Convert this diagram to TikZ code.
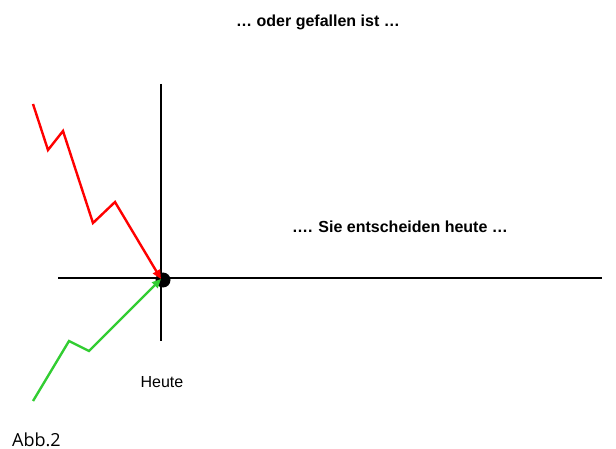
\documentclass[tikz,border=0pt]{standalone}
\usepackage{fontspec}
\setmainfont{Liberation Sans}
\newfontfamily\abbfont{Open Sans}
\usetikzlibrary{arrows.meta}
\begin{document}
\begin{tikzpicture}[x=1pt,y=-1pt,
  axis/.style={line width=2pt,black},
  trend/.style={line width=2.4pt,line join=miter,-{Triangle[length=9pt,width=8pt]}},
  lbl/.style={inner sep=0pt,font=\fontsize{16}{19}\selectfont},
  title/.style={lbl,font=\fontsize{16}{19}\selectfont\bfseries}]
\useasboundingbox (0,0) rectangle (616,449);
\coordinate (hl) at (58,278);
\coordinate (hr) at (602,278);
\coordinate (vt) at (161,84);
\coordinate (vb) at (161,341);
\draw[axis] (hl) -- (hr);
\draw[axis] (vt) -- (vb);
\node[circle,fill=black,minimum size=15pt,inner sep=0pt] (now) at (163,280) {};
\coordinate (r0) at (33,104);
\coordinate (r1) at (48,150);
\coordinate (r2) at (63,131);
\coordinate (r3) at (93,223);
\coordinate (r4) at (115,202);
\coordinate (e) at (161,279);
\draw[trend,red] (r0) -- (r1) -- (r2) -- (r3) -- (r4) -- (e);
\coordinate (g0) at (33,401);
\coordinate (g1) at (69,341);
\coordinate (g2) at (89,351);
\draw[trend,color={rgb,255:red,50;green,205;blue,50}] (g0) -- (g1) -- (g2) -- (e);
\node[title] (t1) at (318,22) {… oder gefallen ist …};
\node[title] (t2) at (400,227) {…. Sie entscheiden heute …};
\node[lbl] (heute) at (162,382) {Heute};
\node[lbl,font=\abbfont\fontsize{18}{21}\selectfont,anchor=base west] (abb) at (12,446) {Abb.2};
\end{tikzpicture}
\end{document}
